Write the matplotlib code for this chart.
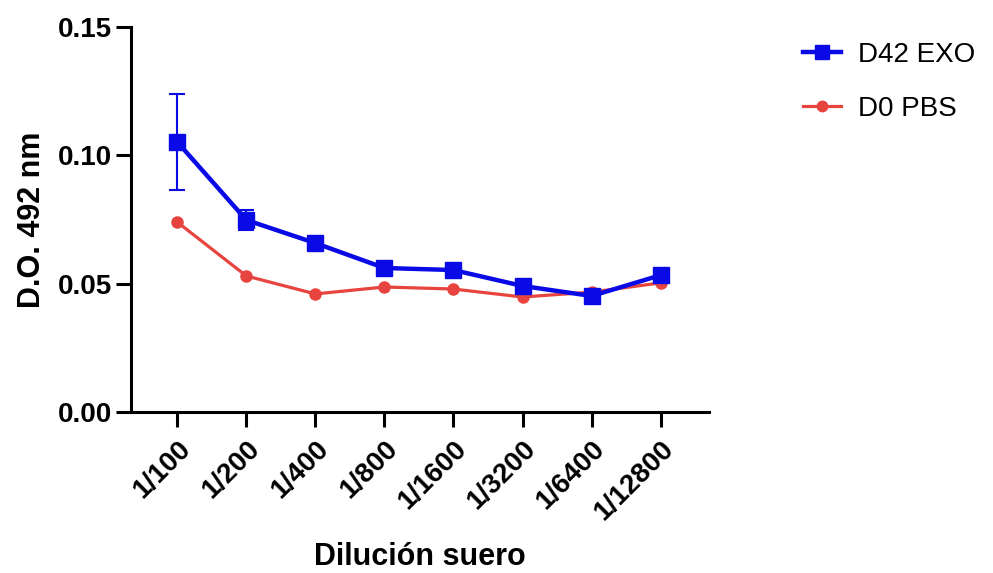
import matplotlib
matplotlib.use("Agg")
import matplotlib.pyplot as plt
from matplotlib.lines import Line2D
import numpy as np

plt.rcParams['font.family'] = ['Liberation Sans', 'DejaVu Sans']

# Serum dilution series
diluciones = ["1/100", "1/200", "1/400", "1/800", "1/1600", "1/3200", "1/6400", "1/12800"]

# Optical density at 492 nm
d42_exo = [0.1052, 0.0748, 0.0658, 0.0561, 0.0553, 0.0491, 0.0452, 0.0533]
d42_exo_err = [0.0188, 0.0040, 0.0, 0.0, 0.0, 0.0, 0.0, 0.0]
d0_pbs = [0.0740, 0.0530, 0.0460, 0.0487, 0.0479, 0.0448, 0.0467, 0.0503]

blue = "#0A0AE6"
red = "#E8443F"

fig = plt.figure(figsize=(9.93, 5.73), dpi=100)
ax = fig.add_axes([0.1319, 0.281, 0.5821, 0.6719])

x = np.arange(len(diluciones))

ax.errorbar(x, d42_exo, yerr=d42_exo_err, color=blue, lw=3.2, marker="s",
            markersize=11.5, capsize=5.8, capthick=1.5, elinewidth=1.5,
            zorder=3)
ax.plot(x, d0_pbs, color=red, lw=2.3, marker="o", markersize=8, zorder=2)

ax.set_xlim(-0.67, 7.7)
ax.set_ylim(0, 0.15)
ax.set_yticks([0.00, 0.05, 0.10, 0.15])
ax.set_yticklabels(["0.00", "0.05", "0.10", "0.15"], fontweight="bold", fontsize=20)
ax.set_xticks(x)
ax.set_xticklabels(diluciones, rotation=45, ha="right", rotation_mode="anchor",
                   fontweight="bold", fontsize=20)

for s in ["top", "right"]:
    ax.spines[s].set_visible(False)
for s in ["left", "bottom"]:
    ax.spines[s].set_linewidth(2.2)
ax.tick_params(axis="both", width=2.2, length=10.5, pad=3)
ax.tick_params(axis="x", pad=7)

ax.set_ylabel("D.O. 492 nm", fontweight="bold", fontsize=22, labelpad=8)
ax.set_xlabel("Dilución suero", fontweight="bold", fontsize=22, labelpad=12)

handles = [
    Line2D([], [], color=blue, lw=3.2, marker="s", markersize=10),
    Line2D([], [], color=red, lw=2.3, marker="o", markersize=7.5),
]
fig.legend(handles, ["D42 EXO", "D0 PBS"], loc="upper left",
           bbox_to_anchor=(0.783, 0.97), frameon=False, fontsize=20,
           handlelength=1.4, handletextpad=0.6, labelspacing=1.0)

fig.savefig("out.png", dpi=100)
